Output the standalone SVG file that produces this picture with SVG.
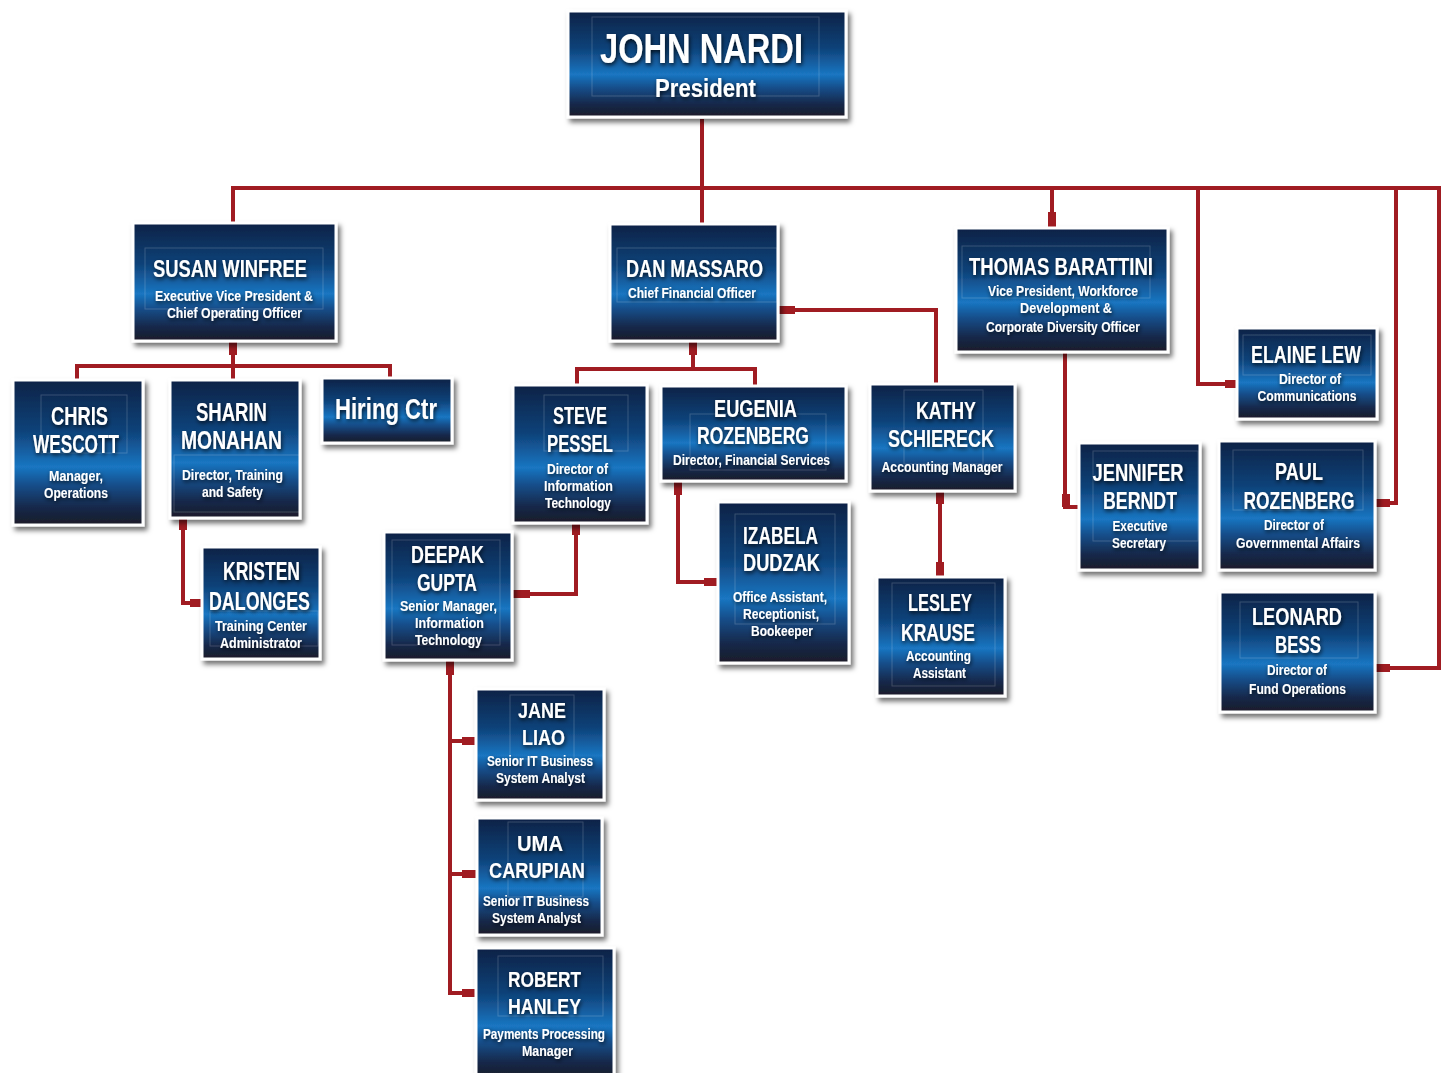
<svg xmlns="http://www.w3.org/2000/svg" width="1442" height="1073" viewBox="0 0 1442 1073">
<defs>
<linearGradient id="bg" x1="0" y1="0" x2="0" y2="1">
<stop offset="0" stop-color="#0c2246"/>
<stop offset="0.35" stop-color="#0f4279"/>
<stop offset="0.6" stop-color="#1a76c2"/>
<stop offset="0.72" stop-color="#134f8c"/>
<stop offset="0.88" stop-color="#14284a"/>
<stop offset="1" stop-color="#1c1c28"/>
</linearGradient>
<filter id="sh" x="-10%" y="-10%" width="125%" height="130%">
<feDropShadow dx="3" dy="4" stdDeviation="2.5" flood-color="#000" flood-opacity="0.55"/>
</filter>
<filter id="ts" x="-10%" y="-20%" width="120%" height="150%">
<feGaussianBlur in="SourceAlpha" stdDeviation="2"/>
<feOffset dx="1" dy="2" result="b"/>
<feFlood flood-color="#000" flood-opacity="0.8"/>
<feComposite in2="b" operator="in"/>
<feMerge><feMergeNode/><feMergeNode in="SourceGraphic"/></feMerge>
</filter>
</defs>
<style>
.box{fill:url(#bg);stroke:#fff;stroke-width:3;filter:url(#sh)}
.deco{fill:none;stroke:#ffffff;stroke-opacity:0.18;stroke-width:1}
text{fill:#fff;text-anchor:middle;font-family:"Liberation Sans",Arial,sans-serif;font-weight:bold;filter:url(#ts)}
.n{font-size:24px}
.nl{font-size:25px}
.ns{font-size:22px}
.s{font-size:14.5px}
.big{font-size:43px}
.mid{font-size:26px}
.hc{font-size:29px}
.c{fill:none;stroke:#a01c22;stroke-width:4}
.st{fill:none;stroke:#a01c22;stroke-width:8}
</style>
<rect width="1442" height="1073" fill="#fff"/>
<g id="connectors">
<path class="c" d="M702,119 V188"/>
<path class="c" d="M233,223 V188 H1439 V668 H1376"/>
<path class="c" d="M702,188 V224"/>
<path class="c" d="M1052,188 V228"/>
<path class="c" d="M1198,188 V384 H1237"/>
<path class="c" d="M1396,188 V503 H1376"/>
<path class="c" d="M233,341 V379"/>
<path class="c" d="M77,380 V366 H390 V378"/>
<path class="c" d="M693,341 V369"/>
<path class="c" d="M577,384 V369 H755 V385"/>
<path class="c" d="M779,310 H936 V383"/>
<path class="c" d="M576,523 V594 H513"/>
<path class="c" d="M678,481 V582 H718"/>
<path class="c" d="M940,491 V576"/>
<path class="c" d="M1065,352 V507 H1078"/>
<path class="c" d="M183,518 V603 H202"/>
<path class="c" d="M450,661 V993 H475"/>
<path class="c" d="M450,741 H475"/>
<path class="c" d="M450,874 H476"/>
<path class="st" d="M1052,212 V228 M1376,503 H1390 M1376,668 H1390 M1225,384 H1237 M1066,494 V507 M779,310 H795 M940,491 V504 M940,562 V576 M233,341 V355 M693,341 V355 M576,523 V535 M513,594 H530 M678,481 V495 M704,582 H718 M183,518 V530 M190,603 H202 M450,661 V675 M462,741 H475 M462,874 H476 M462,993 H475"/>
</g>
<g id="n-john"><rect class="box" x="568" y="11" width="278" height="106"/><rect class="deco" x="592" y="17" width="227" height="79"/><text class="big" x="701.5" y="63" textLength="203" lengthAdjust="spacingAndGlyphs">JOHN NARDI</text><text class="mid" x="705.5" y="97" textLength="101" lengthAdjust="spacingAndGlyphs">President</text></g>
<g id="n-susan"><rect class="box" x="133" y="223" width="203" height="118"/><rect class="deco" x="145" y="248" width="178" height="61"/><text class="n" x="230" y="277" textLength="154" lengthAdjust="spacingAndGlyphs">SUSAN WINFREE</text><text class="s" x="234" y="301" textLength="158" lengthAdjust="spacingAndGlyphs">Executive Vice President &amp;</text><text class="s" x="234.5" y="318" textLength="135" lengthAdjust="spacingAndGlyphs">Chief Operating Officer</text></g>
<g id="n-dan"><rect class="box" x="610" y="224" width="168" height="117"/><rect class="deco" x="617" y="248" width="160" height="54"/><text class="n" x="694.5" y="277" textLength="137" lengthAdjust="spacingAndGlyphs">DAN MASSARO</text><text class="s" x="692" y="298" textLength="128" lengthAdjust="spacingAndGlyphs">Chief Financial Officer</text></g>
<g id="n-thomas"><rect class="box" x="956" y="228" width="212" height="124"/><rect class="deco" x="962" y="246" width="188" height="52"/><text class="n" x="1061" y="275" textLength="184" lengthAdjust="spacingAndGlyphs">THOMAS BARATTINI</text><text class="s" x="1063" y="296" textLength="150" lengthAdjust="spacingAndGlyphs">Vice President, Workforce</text><text class="s" x="1066" y="313" textLength="92" lengthAdjust="spacingAndGlyphs">Development &amp;</text><text class="s" x="1063" y="332" textLength="154" lengthAdjust="spacingAndGlyphs">Corporate Diversity Officer</text></g>
<g id="n-chris"><rect class="box" x="13" y="380" width="130" height="145"/><rect class="deco" x="41" y="395" width="86" height="58"/><text class="nl" x="79.5" y="425" textLength="57" lengthAdjust="spacingAndGlyphs">CHRIS</text><text class="nl" x="76" y="453" textLength="86" lengthAdjust="spacingAndGlyphs">WESCOTT</text><text class="s" x="76" y="481" textLength="54" lengthAdjust="spacingAndGlyphs">Manager,</text><text class="s" x="76" y="498" textLength="64" lengthAdjust="spacingAndGlyphs">Operations</text></g>
<g id="n-sharin"><rect class="box" x="170" y="380" width="130" height="138"/><rect class="deco" x="174" y="455" width="126" height="57"/><text class="nl" x="231.5" y="421" textLength="71" lengthAdjust="spacingAndGlyphs">SHARIN</text><text class="nl" x="231.5" y="449" textLength="101" lengthAdjust="spacingAndGlyphs">MONAHAN</text><text class="s" x="232.5" y="480" textLength="101" lengthAdjust="spacingAndGlyphs">Director, Training</text><text class="s" x="232.5" y="497" textLength="61" lengthAdjust="spacingAndGlyphs">and Safety</text></g>
<g id="n-hiring"><rect class="box" x="322" y="378" width="130" height="65"/><text class="hc" x="386" y="419" textLength="102" lengthAdjust="spacingAndGlyphs">Hiring Ctr</text></g>
<g id="n-kristen"><rect class="box" x="202" y="547" width="118" height="112"/><rect class="deco" x="210" y="611" width="108" height="35"/><text class="nl" x="261.5" y="580" textLength="77" lengthAdjust="spacingAndGlyphs">KRISTEN</text><text class="nl" x="259.5" y="610" textLength="101" lengthAdjust="spacingAndGlyphs">DALONGES</text><text class="s" x="261" y="631" textLength="92" lengthAdjust="spacingAndGlyphs">Training Center</text><text class="s" x="261" y="648" textLength="82" lengthAdjust="spacingAndGlyphs">Administrator</text></g>
<g id="n-steve"><rect class="box" x="513" y="385" width="134" height="138"/><rect class="deco" x="544" y="395" width="84" height="56"/><text class="n" x="580" y="424" textLength="54" lengthAdjust="spacingAndGlyphs">STEVE</text><text class="n" x="580" y="452" textLength="66" lengthAdjust="spacingAndGlyphs">PESSEL</text><text class="s" x="577.5" y="474" textLength="61" lengthAdjust="spacingAndGlyphs">Director of</text><text class="s" x="578.5" y="491" textLength="69" lengthAdjust="spacingAndGlyphs">Information</text><text class="s" x="578" y="508" textLength="66" lengthAdjust="spacingAndGlyphs">Technology</text></g>
<g id="n-eugenia"><rect class="box" x="661" y="386" width="185" height="95"/><rect class="deco" x="690" y="414" width="136" height="56"/><text class="n" x="755.5" y="417" textLength="83" lengthAdjust="spacingAndGlyphs">EUGENIA</text><text class="n" x="753" y="444" textLength="112" lengthAdjust="spacingAndGlyphs">ROZENBERG</text><text class="s" x="751.5" y="465" textLength="157" lengthAdjust="spacingAndGlyphs">Director, Financial Services</text></g>
<g id="n-kathy"><rect class="box" x="870" y="384" width="145" height="107"/><rect class="deco" x="904" y="390" width="79" height="74"/><text class="n" x="946" y="419" textLength="60" lengthAdjust="spacingAndGlyphs">KATHY</text><text class="n" x="941" y="447" textLength="106" lengthAdjust="spacingAndGlyphs">SCHIERECK</text><text class="s" x="942" y="472" textLength="121" lengthAdjust="spacingAndGlyphs">Accounting Manager</text></g>
<g id="n-elaine"><rect class="box" x="1237" y="328" width="140" height="91"/><rect class="deco" x="1243" y="335" width="128" height="40"/><text class="n" x="1306" y="363" textLength="110" lengthAdjust="spacingAndGlyphs">ELAINE LEW</text><text class="s" x="1310" y="384" textLength="62" lengthAdjust="spacingAndGlyphs">Director of</text><text class="s" x="1307" y="401" textLength="99" lengthAdjust="spacingAndGlyphs">Communications</text></g>
<g id="n-jennifer"><rect class="box" x="1079" y="443" width="121" height="127"/><rect class="deco" x="1093" y="451" width="105" height="90"/><text class="n" x="1138" y="481" textLength="91" lengthAdjust="spacingAndGlyphs">JENNIFER</text><text class="n" x="1140" y="509" textLength="74" lengthAdjust="spacingAndGlyphs">BERNDT</text><text class="s" x="1140" y="531" textLength="55" lengthAdjust="spacingAndGlyphs">Executive</text><text class="s" x="1139" y="548" textLength="54" lengthAdjust="spacingAndGlyphs">Secretary</text></g>
<g id="n-paul"><rect class="box" x="1219" y="441" width="156" height="129"/><rect class="deco" x="1233" y="450" width="130" height="60"/><text class="n" x="1299" y="480" textLength="48" lengthAdjust="spacingAndGlyphs">PAUL</text><text class="n" x="1299" y="509" textLength="111" lengthAdjust="spacingAndGlyphs">ROZENBERG</text><text class="s" x="1294" y="530" textLength="60" lengthAdjust="spacingAndGlyphs">Director of</text><text class="s" x="1298" y="548" textLength="124" lengthAdjust="spacingAndGlyphs">Governmental Affairs</text></g>
<g id="n-leonard"><rect class="box" x="1220" y="592" width="155" height="120"/><rect class="deco" x="1240" y="602" width="118" height="56"/><text class="n" x="1297" y="625" textLength="90" lengthAdjust="spacingAndGlyphs">LEONARD</text><text class="n" x="1298" y="653" textLength="46" lengthAdjust="spacingAndGlyphs">BESS</text><text class="s" x="1297" y="675" textLength="60" lengthAdjust="spacingAndGlyphs">Director of</text><text class="s" x="1297.5" y="694" textLength="97" lengthAdjust="spacingAndGlyphs">Fund Operations</text></g>
<g id="n-lesley"><rect class="box" x="877" y="577" width="128" height="119"/><rect class="deco" x="892" y="583" width="103" height="103"/><text class="n" x="940" y="611" textLength="64" lengthAdjust="spacingAndGlyphs">LESLEY</text><text class="n" x="938" y="641" textLength="74" lengthAdjust="spacingAndGlyphs">KRAUSE</text><text class="s" x="938.5" y="661" textLength="65" lengthAdjust="spacingAndGlyphs">Accounting</text><text class="s" x="939.5" y="678" textLength="53" lengthAdjust="spacingAndGlyphs">Assistant</text></g>
<g id="n-izabela"><rect class="box" x="718" y="502" width="131" height="161"/><rect class="deco" x="735" y="514" width="100" height="110"/><text class="n" x="780.5" y="544" textLength="75" lengthAdjust="spacingAndGlyphs">IZABELA</text><text class="n" x="781.5" y="571" textLength="77" lengthAdjust="spacingAndGlyphs">DUDZAK</text><text class="s" x="780" y="602" textLength="94" lengthAdjust="spacingAndGlyphs">Office Assistant,</text><text class="s" x="781" y="619" textLength="76" lengthAdjust="spacingAndGlyphs">Receptionist,</text><text class="s" x="782" y="636" textLength="62" lengthAdjust="spacingAndGlyphs">Bookeeper</text></g>
<g id="n-deepak"><rect class="box" x="384" y="532" width="128" height="128"/><rect class="deco" x="392" y="540" width="108" height="105"/><text class="n" x="447.5" y="563" textLength="73" lengthAdjust="spacingAndGlyphs">DEEPAK</text><text class="n" x="447" y="591" textLength="60" lengthAdjust="spacingAndGlyphs">GUPTA</text><text class="s" x="448.5" y="611" textLength="97" lengthAdjust="spacingAndGlyphs">Senior Manager,</text><text class="s" x="449.5" y="628" textLength="69" lengthAdjust="spacingAndGlyphs">Information</text><text class="s" x="448.5" y="645" textLength="67" lengthAdjust="spacingAndGlyphs">Technology</text></g>
<g id="n-jane"><rect class="box" x="476" y="689" width="128" height="111"/><rect class="deco" x="510" y="695" width="64" height="64"/><text class="ns" x="542" y="718" textLength="48" lengthAdjust="spacingAndGlyphs">JANE</text><text class="ns" x="543.5" y="745" textLength="43" lengthAdjust="spacingAndGlyphs">LIAO</text><text class="s" x="540" y="766" textLength="106" lengthAdjust="spacingAndGlyphs">Senior IT Business</text><text class="s" x="540.5" y="783" textLength="89" lengthAdjust="spacingAndGlyphs">System Analyst</text></g>
<g id="n-uma"><rect class="box" x="477" y="818" width="125" height="117"/><rect class="deco" x="508" y="822" width="75" height="75"/><text class="ns" x="540" y="851" textLength="46" lengthAdjust="spacingAndGlyphs">UMA</text><text class="ns" x="537" y="878" textLength="96" lengthAdjust="spacingAndGlyphs">CARUPIAN</text><text class="s" x="536" y="906" textLength="106" lengthAdjust="spacingAndGlyphs">Senior IT Business</text><text class="s" x="536.5" y="923" textLength="89" lengthAdjust="spacingAndGlyphs">System Analyst</text></g>
<g id="n-robert"><rect class="box" x="476" y="948" width="138" height="130"/><rect class="deco" x="498" y="956" width="105" height="60"/><text class="ns" x="544.5" y="987" textLength="73" lengthAdjust="spacingAndGlyphs">ROBERT</text><text class="ns" x="544.5" y="1014" textLength="73" lengthAdjust="spacingAndGlyphs">HANLEY</text><text class="s" x="544" y="1039" textLength="122" lengthAdjust="spacingAndGlyphs">Payments Processing</text><text class="s" x="547.5" y="1056" textLength="51" lengthAdjust="spacingAndGlyphs">Manager</text></g>
</svg>
